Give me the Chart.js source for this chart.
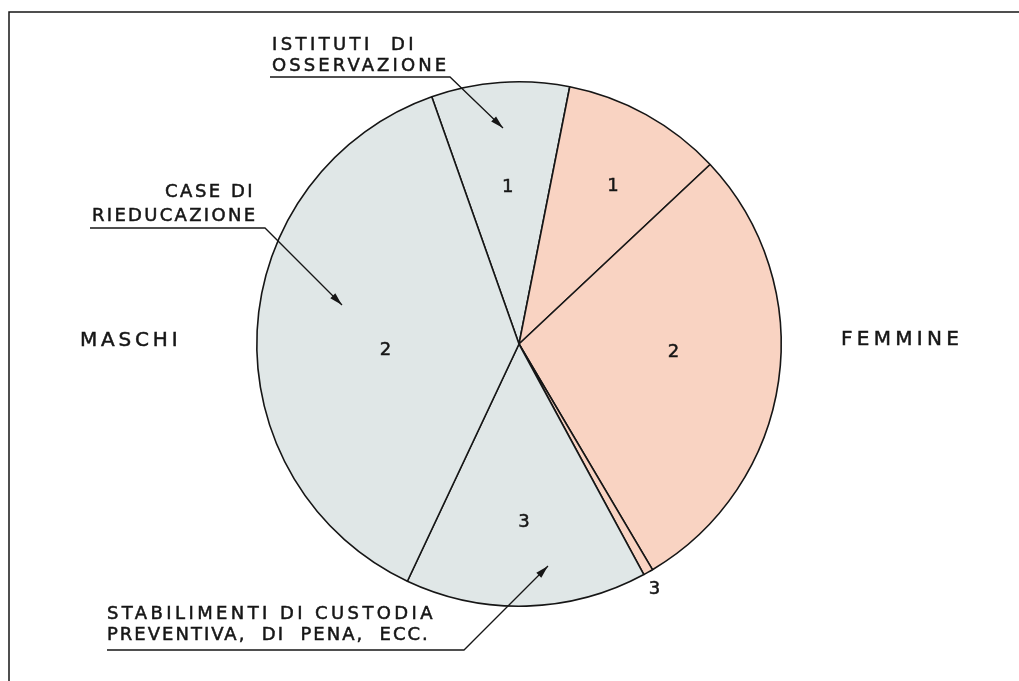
<!DOCTYPE html>
<html>
<head>
<meta charset="utf-8">
<script src="https://cdn.jsdelivr.net/npm/chart.js@4.4.0/dist/chart.umd.min.js"></script>
<style>
  html, body { margin: 0; padding: 0; background: #fff; }
  #wrap { width: 1019px; height: 681px; position: relative; }
</style>
</head>
<body>
<div id="wrap"><canvas id="pieChart"></canvas></div>
<script>
// slices in clockwise order, starting at the upper-left boundary
const categories = [
    'Maschi - istituti di osservazione',
    'Femmine - istituti di osservazione',
    'Femmine - case di rieducazione',
    'Femmine - stabilimenti di custodia',
    'Maschi - stabilimenti di custodia',
    'Maschi - case di rieducazione'
];
const sliceNumbers = ['1', '1', '2', '3', '3', '2'];
const sexes = ['M', 'F', 'F', 'F', 'M', 'M'];
const shares = [8.5, 9.9, 28.5, 0.6, 14.9, 37.6];

const sexColors = { M: '#e0e7e7', F: '#f9d3c2' };

// where each number sits: fraction along the slice, fraction of the radius
const numberPlacement = [
    [0.50, 0.60],
    [0.55, 0.70],
    [0.45, 0.59],
    [0.79, 1.07],
    [0.50, 0.68],
    [0.46, 0.51]
];

const LETTERING = '"DejaVu Sans", sans-serif';
const INK = '#161616';

function arrow(ctx, pts) {
    ctx.beginPath();
    ctx.moveTo(pts[0][0], pts[0][1]);
    for (let i = 1; i < pts.length; i++) ctx.lineTo(pts[i][0], pts[i][1]);
    ctx.stroke();
    const [x1, y1] = pts[pts.length - 2];
    const [x2, y2] = pts[pts.length - 1];
    const a = Math.atan2(y2 - y1, x2 - x1);
    const len = 13, half = 3.5;
    ctx.beginPath();
    ctx.moveTo(x2, y2);
    ctx.lineTo(x2 - len * Math.cos(a) + half * Math.sin(a), y2 - len * Math.sin(a) - half * Math.cos(a));
    ctx.lineTo(x2 - len * Math.cos(a) - half * Math.sin(a), y2 - len * Math.sin(a) + half * Math.cos(a));
    ctx.closePath();
    ctx.fill();
}

// stencil-like capitals: spaced out and slightly thickened
function lettering(ctx, text, x, y, size, spacing) {
    ctx.font = size + 'px ' + LETTERING;
    ctx.letterSpacing = spacing + 'px';
    ctx.textAlign = 'left';
    ctx.textBaseline = 'alphabetic';
    ctx.lineWidth = 0.5;
    ctx.fillText(text, x, y);
    ctx.strokeText(text, x, y);
    ctx.letterSpacing = '0px';
}

const sliceNumbersPlugin = {
    id: 'sliceNumbers',
    afterDatasetsDraw(chart) {
        const ctx = chart.ctx;
        const arcs = chart.getDatasetMeta(0).data;
        ctx.save();
        ctx.fillStyle = INK;
        ctx.strokeStyle = INK;
        ctx.lineWidth = 0.5;
        ctx.font = '18px ' + LETTERING;
        ctx.textAlign = 'center';
        ctx.textBaseline = 'middle';
        arcs.forEach((arc, i) => {
            const p = arc.getProps(['x', 'y', 'startAngle', 'endAngle', 'outerRadius'], true);
            const [t, f] = numberPlacement[i];
            const a = p.startAngle + t * (p.endAngle - p.startAngle);
            const x = p.x + Math.cos(a) * p.outerRadius * f;
            const y = p.y + Math.sin(a) * p.outerRadius * f;
            ctx.fillText(sliceNumbers[i], x, y);
            ctx.strokeText(sliceNumbers[i], x, y);
        });
        ctx.restore();
    }
};

const annotationsPlugin = {
    id: 'annotations',
    afterDraw(chart) {
        const ctx = chart.ctx;
        ctx.save();
        ctx.strokeStyle = INK;
        ctx.fillStyle = INK;

        // frame
        ctx.lineWidth = 1.5;
        ctx.beginPath();
        ctx.moveTo(9, 681);
        ctx.lineTo(9, 12);
        ctx.lineTo(1019, 12);
        ctx.stroke();

        lettering(ctx, 'ISTITUTI  DI', 272, 50, 18, 3.4);
        lettering(ctx, 'OSSERVAZIONE', 272, 71, 18, 3.1);
        ctx.lineWidth = 1.3;
        arrow(ctx, [[270, 77], [450, 77], [503, 128]]);

        lettering(ctx, 'CASE DI', 165, 197, 18, 2.5);
        lettering(ctx, 'RIEDUCAZIONE', 92, 221, 18, 2.3);
        ctx.lineWidth = 1.3;
        arrow(ctx, [[90, 228], [265, 228], [342, 305]]);

        lettering(ctx, 'STABILIMENTI DI CUSTODIA', 107, 619, 18, 3.4);
        lettering(ctx, 'PREVENTIVA,  DI  PENA,  ECC.', 107, 640, 18, 2);
        ctx.lineWidth = 1.3;
        arrow(ctx, [[107, 650], [464, 650], [548, 566]]);

        lettering(ctx, 'MASCHI', 80, 346, 20, 3.8);
        lettering(ctx, 'FEMMINE', 841, 345, 20, 4.3);

        ctx.restore();
    }
};

new Chart(document.getElementById('pieChart').getContext('2d'), {
    type: 'pie',
    data: {
        labels: categories,
        datasets: [{
            data: shares,
            backgroundColor: sexes.map(s => sexColors[s]),
            borderColor: INK,
            borderWidth: 1.6
        }]
    },
    options: {
        responsive: true,
        maintainAspectRatio: false,
        animation: false,
        rotation: -19.44,
        layout: { padding: { left: 256, right: 237, top: 81, bottom: 74 } },
        plugins: {
            legend: { display: false },
            tooltip: { enabled: false }
        }
    },
    plugins: [sliceNumbersPlugin, annotationsPlugin]
});
</script>
</body>
</html>
